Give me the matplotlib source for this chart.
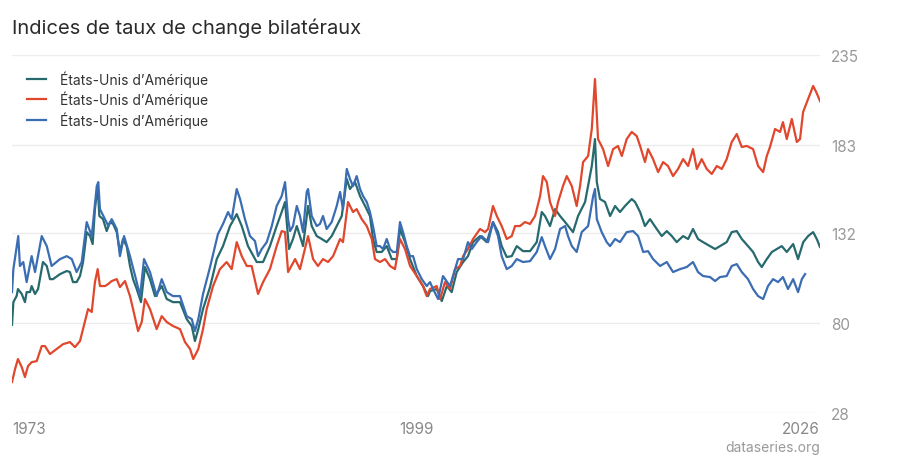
import matplotlib
matplotlib.use("Agg")
import matplotlib.pyplot as plt

plt.rcParams['font.family'] = ['Inter', 'DejaVu Sans']

title = "Indices de taux de change bilatéraux"
series_names = ["États-Unis d’Amérique", "États-Unis d’Amérique", "États-Unis d’Amérique"]
colors = ["#276a6e", "#e0472c", "#3b6db3"]

# teal series
teal_years = [1973.00, 1973.09, 1973.31, 1973.39, 1973.64, 1973.85, 1973.96, 1974.18, 1974.29, 1974.51,
              1974.71, 1974.95, 1975.03, 1975.28, 1975.49, 1975.69, 1976.15, 1976.59, 1976.80, 1977.00,
              1977.24, 1977.46, 1977.66, 1977.90, 1978.12, 1978.29, 1978.44, 1978.62, 1978.73, 1978.97,
              1979.21, 1979.43, 1979.63, 1979.87, 1980.08, 1980.28, 1980.52, 1980.74, 1980.94, 1981.18,
              1981.46, 1981.72, 1982.05, 1982.38, 1982.82, 1983.15, 1983.56, 1984.02, 1984.46, 1984.79,
              1985.00, 1985.22, 1985.53, 1985.99, 1986.43, 1986.84, 1987.30, 1987.74, 1988.07, 1988.48,
              1989.05, 1989.47, 1989.92, 1990.36, 1990.69, 1990.91, 1991.17, 1991.43, 1991.68, 1991.89,
              1992.09, 1992.42, 1992.66, 1992.99, 1993.32, 1993.64, 1993.97, 1994.30, 1994.63, 1994.96,
              1995.17, 1995.50, 1995.83, 1996.16, 1996.48, 1996.68, 1996.92, 1997.25, 1997.58, 1997.91,
              1998.24, 1998.45, 1998.78, 1999.11, 1999.55, 1999.96, 2000.29, 2000.42, 2000.86, 2001.19,
              2001.52, 2001.84, 2002.17, 2002.59, 2002.91, 2003.24, 2003.70, 2004.14, 2004.55, 2004.88,
              2005.12, 2005.45, 2005.78, 2006.11, 2006.52, 2006.98, 2007.42, 2007.75, 2007.96, 2008.29,
              2008.62, 2008.95, 2009.28, 2009.80, 2010.13, 2010.59, 2011.03, 2011.24, 2011.36, 2011.57,
              2011.90, 2012.23, 2012.56, 2012.88, 2013.21, 2013.65, 2013.87, 2014.20, 2014.52, 2014.85,
              2015.29, 2015.62, 2015.95, 2016.28, 2016.60, 2017.02, 2017.35, 2017.67, 2018.00, 2018.33,
              2018.79, 2019.12, 2019.44, 2019.88, 2020.21, 2020.54, 2020.87, 2021.28, 2021.61, 2021.94,
              2022.18, 2022.51, 2022.84, 2023.16, 2023.49, 2023.82, 2024.24, 2024.56, 2024.90, 2025.22,
              2025.55, 2025.79, 2026.00]
teal_vals = [79, 92.1, 95.8, 99.7, 96.8, 92.1, 97.9, 97.9, 101.4, 96.8,
             99.7, 111.2, 115.3, 113.0, 105.4, 105.4, 108.3, 110.1, 109.5, 103.7,
             103.7, 107.2, 115.3, 132.6, 130.3, 125.7, 145.9, 159.2, 141.9, 140.1,
             133.2, 138.4, 137.3, 132.6, 121.1, 128.6, 124.5, 113.0, 105.4, 99.7,
             92.1, 112.4, 105.4, 95.6, 101.4, 93.9, 92.1, 92.1, 82.3, 78.3,
             69.6, 76.5, 88.1, 100.8, 117.0, 124.5, 136.1, 143.0, 136.1, 124.5,
             115.3, 115.3, 124.5, 136.1, 144.2, 150.0, 122.8, 128.6, 136.1, 130.3,
             124.5, 147.7, 136.1, 130.3, 128.6, 126.8, 130.3, 136.1, 141.9, 163.3,
             157.5, 161.5, 153.4, 147.7, 141.9, 128.6, 121.1, 121.1, 124.5, 117.0,
             117.0, 134.4, 126.8, 117.0, 107.2, 101.4, 95.6, 98.5, 99.7, 92.7,
             101.4, 97.9, 109.5, 115.3, 118.7, 126.8, 130.3, 126.8, 138.4, 132.6,
             124.5, 118.2, 118.7, 124.5, 121.6, 121.6, 126.8, 144.2, 141.9, 136.1,
             145.9, 141.9, 138.4, 132.6, 141.9, 150.0, 170.8, 186.4, 161.5, 151.7,
             150.0, 141.9, 147.7, 144.2, 147.7, 151.7, 150.0, 144.2, 136.1, 140.1,
             134.4, 130.3, 133.2, 130.3, 126.8, 130.3, 128.6, 134.4, 128.6, 126.8,
             124.5, 122.8, 124.5, 126.8, 132.6, 133.2, 128.6, 124.5, 121.1, 115.3,
             112.4, 117.0, 121.1, 122.8, 124.5, 121.1, 125.7, 117.0, 126.8, 130.3,
             132.6, 128.6, 124.0]

# red series
red_years = [1973.00, 1973.20, 1973.39, 1973.64, 1973.85, 1974.05, 1974.29, 1974.62, 1974.95, 1975.16,
             1975.49, 1975.93, 1976.35, 1976.80, 1977.13, 1977.46, 1977.66, 1977.99, 1978.23, 1978.44,
             1978.62, 1978.77, 1979.10, 1979.30, 1979.54, 1979.87, 1980.08, 1980.41, 1980.74, 1980.94,
             1981.27, 1981.51, 1981.72, 1982.05, 1982.49, 1982.82, 1983.15, 1983.56, 1984.02, 1984.35,
             1984.68, 1984.89, 1985.22, 1985.53, 1985.77, 1986.19, 1986.64, 1987.08, 1987.41, 1987.74,
             1988.07, 1988.40, 1988.72, 1989.14, 1989.47, 1989.92, 1990.36, 1990.69, 1990.91, 1991.11,
             1991.57, 1991.89, 1992.42, 1992.75, 1993.07, 1993.40, 1993.73, 1994.06, 1994.52, 1994.71,
             1995.04, 1995.37, 1995.61, 1995.94, 1996.27, 1996.60, 1996.81, 1997.14, 1997.47, 1997.80,
             1998.12, 1998.45, 1998.78, 1999.11, 1999.55, 1999.96, 2000.20, 2000.42, 2000.86, 2001.08,
             2001.40, 2001.73, 2002.06, 2002.39, 2002.59, 2002.91, 2003.24, 2003.70, 2004.03, 2004.23,
             2004.55, 2004.80, 2005.12, 2005.45, 2005.78, 2006.00, 2006.32, 2006.65, 2006.98, 2007.31,
             2007.64, 2007.83, 2008.08, 2008.29, 2008.62, 2008.82, 2009.14, 2009.39, 2009.72, 2010.04,
             2010.26, 2010.46, 2010.79, 2011.03, 2011.24, 2011.44, 2011.77, 2012.10, 2012.43, 2012.75,
             2013.00, 2013.32, 2013.65, 2013.98, 2014.20, 2014.52, 2014.72, 2015.05, 2015.38, 2015.71,
             2016.03, 2016.36, 2016.69, 2017.02, 2017.35, 2017.67, 2017.92, 2018.24, 2018.57, 2018.90,
             2019.23, 2019.56, 2019.88, 2020.21, 2020.54, 2020.87, 2021.20, 2021.61, 2021.94, 2022.27,
             2022.51, 2022.72, 2023.05, 2023.38, 2023.57, 2023.82, 2024.15, 2024.48, 2024.69, 2024.89,
             2025.22, 2025.55, 2025.75, 2026.00]
red_vals = [45.9, 53.4, 59.2, 54.5, 48.8, 55.1, 57.4, 58.0, 66.7, 66.7,
            62.1, 65.0, 67.8, 69.0, 66.1, 69.6, 76.5, 88.1, 86.4, 103.7,
            111.2, 101.4, 101.4, 102.5, 104.3, 105.4, 100.8, 104.3, 95.6, 88.1,
            75.4, 80.6, 93.9, 88.1, 76.5, 84.0, 80.6, 78.3, 76.5, 69.0,
            65.0, 59.2, 65.0, 76.5, 88.1, 101.4, 111.2, 115.3, 111.2, 126.8,
            118.7, 113.0, 113.0, 96.8, 103.7, 111.2, 124.5, 133.2, 132.6, 109.5,
            117.0, 111.2, 130.3, 117.0, 113.0, 117.0, 115.3, 118.7, 128.6, 126.8,
            150.0, 144.2, 145.9, 140.1, 136.1, 128.6, 117.0, 115.3, 117.0, 113.0,
            111.2, 128.6, 122.8, 113.0, 107.2, 101.4, 95.6, 99.7, 101.4, 93.9,
            103.7, 99.7, 111.2, 113.0, 118.7, 122.8, 128.6, 134.4, 132.6, 134.4,
            147.7, 141.9, 136.1, 128.6, 130.3, 136.1, 136.1, 138.4, 137.3, 141.9,
            153.4, 165.0, 161.5, 150.0, 141.9, 150.0, 159.2, 165.0, 159.2, 147.7,
            159.2, 173.1, 176.6, 192.2, 221.1, 186.4, 180.6, 170.8, 180.6, 182.4,
            176.6, 186.4, 190.5, 188.1, 182.4, 173.1, 180.6, 174.8, 167.3, 173.1,
            170.8, 165.0, 169.1, 174.8, 170.8, 180.6, 169.1, 174.8, 169.1, 166.2,
            170.8, 169.1, 174.8, 184.7, 189.3, 181.8, 182.4, 180.6, 170.8, 167.3,
            176.6, 181.8, 192.2, 190.5, 196.2, 186.4, 198.0, 184.7, 186.4, 202.0,
            209.6, 217.1, 213.6, 208.4]

# blue series
blue_years = [1973.00, 1973.09, 1973.41, 1973.52, 1973.74, 1973.96, 1974.29, 1974.51, 1974.95, 1975.28,
              1975.60, 1976.15, 1976.59, 1976.92, 1977.24, 1977.57, 1977.90, 1978.23, 1978.56, 1978.66,
              1978.77, 1979.10, 1979.32, 1979.54, 1979.87, 1980.08, 1980.35, 1980.74, 1981.18, 1981.40,
              1981.66, 1982.05, 1982.49, 1982.82, 1983.15, 1983.56, 1984.02, 1984.46, 1984.79, 1985.00,
              1985.22, 1985.53, 1985.99, 1986.32, 1986.51, 1986.84, 1987.17, 1987.41, 1987.74, 1987.96,
              1988.28, 1988.61, 1988.94, 1989.14, 1989.38, 1989.71, 1990.04, 1990.36, 1990.69, 1990.91,
              1991.11, 1991.24, 1991.43, 1991.68, 1991.89, 1992.09, 1992.33, 1992.42, 1992.66, 1992.99,
              1993.20, 1993.40, 1993.64, 1993.97, 1994.30, 1994.52, 1994.71, 1994.96, 1995.17, 1995.37,
              1995.61, 1995.83, 1996.03, 1996.27, 1996.48, 1996.68, 1996.92, 1997.14, 1997.34, 1997.58,
              1997.80, 1997.99, 1998.24, 1998.45, 1998.65, 1998.89, 1999.11, 1999.31, 1999.55, 1999.88,
              2000.20, 2000.42, 2000.62, 2000.95, 2001.27, 2001.73, 2002.06, 2002.26, 2002.59, 2002.91,
              2003.16, 2003.48, 2003.81, 2004.23, 2004.55, 2004.88, 2005.12, 2005.45, 2005.78, 2006.11,
              2006.52, 2006.98, 2007.42, 2007.75, 2007.96, 2008.29, 2008.62, 2008.95, 2009.28, 2009.47,
              2009.72, 2010.04, 2010.37, 2010.79, 2011.12, 2011.24, 2011.36, 2011.68, 2012.01, 2012.23,
              2012.56, 2012.88, 2013.32, 2013.74, 2014.07, 2014.40, 2014.72, 2015.05, 2015.51, 2015.95,
              2016.36, 2016.82, 2017.26, 2017.67, 2018.00, 2018.33, 2018.79, 2019.12, 2019.44, 2019.88,
              2020.21, 2020.54, 2020.87, 2021.28, 2021.61, 2021.94, 2022.27, 2022.59, 2022.92, 2023.25,
              2023.57, 2023.90, 2024.24, 2024.56, 2024.81, 2025.02]
blue_vals = [97.9, 111.2, 130.3, 113.0, 115.3, 103.7, 118.7, 109.5, 130.3, 124.5,
             113.0, 117.0, 118.7, 117.0, 109.5, 115.3, 138.4, 130.3, 159.2, 161.5,
             145.9, 140.1, 136.1, 140.1, 134.4, 118.7, 130.3, 118.7, 103.7, 95.6,
             117.0, 109.5, 95.6, 105.4, 97.9, 95.6, 95.6, 84.0, 82.3, 75.4,
             82.3, 96.8, 112.4, 124.5, 131.5, 137.3, 144.2, 140.1, 157.5, 151.7,
             140.1, 130.3, 127.4, 118.7, 122.8, 126.8, 136.1, 147.7, 153.4, 161.5,
             140.1, 133.2, 136.1, 147.7, 141.9, 132.6, 155.8, 157.5, 141.9, 136.1,
             137.3, 141.9, 134.4, 138.4, 147.7, 155.8, 145.9, 169.1, 163.3, 159.2,
             165.0, 157.5, 153.4, 150.0, 144.2, 136.1, 124.5, 124.5, 122.8, 128.6,
             122.8, 121.1, 121.1, 138.4, 132.6, 124.5, 118.7, 118.7, 111.2, 105.4,
             101.4, 103.7, 99.7, 93.9, 107.2, 101.4, 111.2, 117.0, 117.0, 126.8,
             122.8, 126.8, 130.3, 126.8, 138.4, 130.3, 118.7, 111.2, 113.0, 117.0,
             115.3, 115.8, 121.1, 129.7, 124.5, 117.0, 122.8, 134.4, 136.1, 130.3,
             124.5, 121.1, 132.6, 136.1, 153.4, 157.5, 140.1, 132.6, 126.8, 124.5,
             128.6, 126.8, 132.6, 133.2, 130.3, 121.1, 121.6, 117.0, 113.0, 115.3,
             109.5, 111.2, 112.4, 115.3, 109.5, 107.2, 106.6, 104.3, 106.6, 107.2,
             113.0, 114.1, 109.5, 105.4, 99.7, 95.6, 93.9, 101.4, 105.4, 103.7,
             106.6, 99.7, 105.4, 97.9, 105.4, 108.3]

y_ticks = [28, 80, 132, 183, 235]
x_ticks = [1973, 1999.5, 2026]
x_labels = ["1973", "1999", "2026"]

fig = plt.figure(figsize=(9, 4.6), dpi=100)
ax = fig.add_axes([12 / 900, 1 - 414 / 460, 808 / 900, 358 / 460])

for yrs, vals, c, name in zip([teal_years, red_years, blue_years],
                              [teal_vals, red_vals, blue_vals], colors, series_names):
    ax.plot(yrs, vals, color=c, lw=1.6, label=name, solid_joinstyle='round')

ax.set_xlim(1973, 2026)
ax.set_ylim(28, 235)
for s in ax.spines.values():
    s.set_visible(False)
ax.yaxis.tick_right()
ax.set_yticks(y_ticks)
ax.tick_params(axis='y', length=0, pad=8, labelsize=11, labelcolor='#999999')
ax.grid(axis='y', color='#ececec', lw=1)
ax.set_axisbelow(True)

ax.set_xticks(x_ticks)
ax.set_xticklabels(x_labels)
ax.tick_params(axis='x', length=0, pad=6, labelsize=11, labelcolor='#888888')
xl = ax.get_xticklabels()
xl[0].set_horizontalalignment('left')
xl[2].set_horizontalalignment('right')

fig.text(12 / 900, 1 - 28 / 460, title, fontsize=14.5, color='#2b2b2b', va='center', ha='left')
fig.text(820 / 900, 1 - 448 / 460, "dataseries.org", fontsize=10, color='#999999', va='center', ha='right')

leg = ax.legend(loc='upper left', bbox_to_anchor=(0.006, 0.985), frameon=False, fontsize=10,
                handlelength=1.4, handletextpad=1.0, labelspacing=0.3, borderaxespad=0.3)
for t in leg.get_texts():
    t.set_color('#333333')

fig.savefig("out.png", dpi=100, facecolor='white')
